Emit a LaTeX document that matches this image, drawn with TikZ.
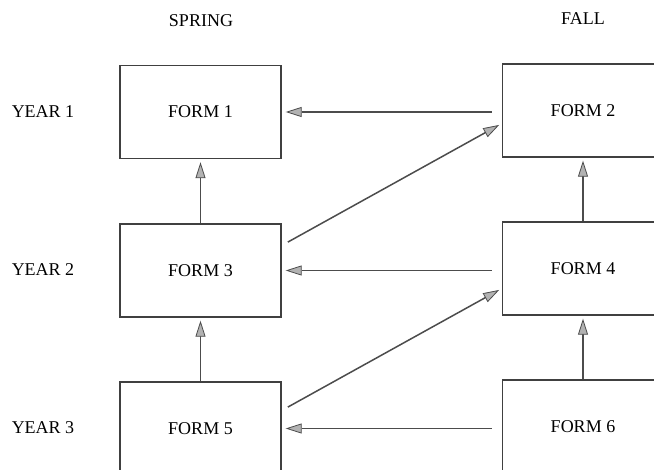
\documentclass[tikz,border=0pt]{standalone}
\usepackage{fontspec}
\setmainfont{Liberation Serif}
\usetikzlibrary{arrows.meta}
\begin{document}
\begin{tikzpicture}[x=1pt,y=-1pt,
  formbox/.style={draw=black!75, line width=1.4pt, minimum width=161pt, minimum height=93pt, inner sep=0pt, font=\fontsize{18}{21}\selectfont},
  lbl/.style={font=\fontsize{18}{21}\selectfont, inner sep=0pt},
  arr/.style={draw=black!70, line width=1.5pt, -{Triangle[length=16pt,width=10pt,fill=black!30,line width=0.8pt]}}]
\useasboundingbox (0,0) rectangle (654,470);
\clip (0,0) rectangle (654,470);
\node[lbl] (spring) at (201,21) {SPRING};
\node[lbl] (fall) at (583,19) {FALL};
\node[lbl] (y1) at (43,112) {YEAR 1};
\node[lbl] (y2) at (43,270) {YEAR 2};
\node[lbl] (y3) at (43,428) {YEAR 3};
\node[formbox] (f1) at (200.5,112) {FORM 1};
\node[formbox] (f2) at (583,110.5) {FORM 2};
\node[formbox] (f3) at (200.5,270.5) {FORM 3};
\node[formbox] (f4) at (583,268.5) {FORM 4};
\node[formbox] (f5) at (200.5,428.5) {FORM 5};
\node[formbox] (f6) at (583,426.5) {FORM 6};
% horizontal
\draw[arr, shorten <=10pt, shorten >=4pt] (f2.west |- f1.east) -- (f1.east);
\draw[arr, shorten <=10pt, shorten >=4pt] (f4.west |- f3.east) -- (f3.east);
\draw[arr, shorten <=10pt, shorten >=4pt] (f6.west |- f5.east) -- (f5.east);
% vertical
\draw[arr, shorten >=3pt] (f3.north) -- (f1.south);
\draw[arr, shorten >=3pt] (f5.north) -- (f3.south);
\draw[arr, shorten >=3pt] (f4.north) -- (f2.south);
\draw[arr, shorten >=3pt] (f6.north) -- (f4.south);
% diagonal
\draw[arr, shorten <=7pt, shorten >=3pt] ([yshift=25pt]f3.east) -- ([yshift=-13pt]f2.west);
\draw[arr, shorten <=7pt, shorten >=3pt] ([yshift=18pt]f5.east) -- ([yshift=-20pt]f4.west);
\end{tikzpicture}
\end{document}
